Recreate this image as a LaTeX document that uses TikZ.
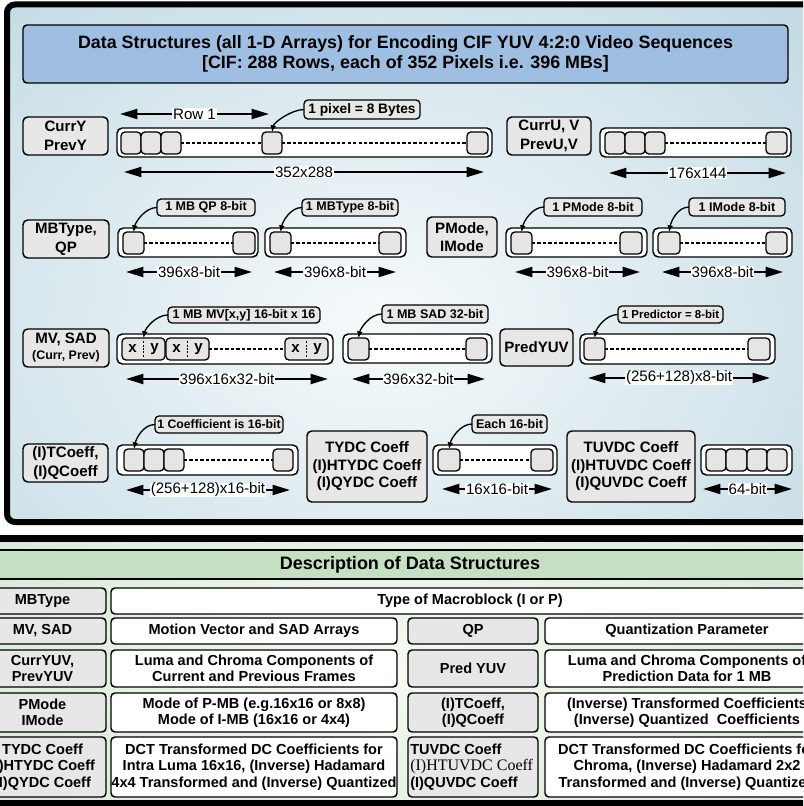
\documentclass[tikz,border=0pt]{standalone}
\usepackage{fontspec}
\setmainfont{Liberation Sans}
\newfontfamily\serifx{Liberation Serif}
\usetikzlibrary{arrows.meta}
\definecolor{tbin}{RGB}{246,250,251}
\definecolor{tbout}{RGB}{186,213,224}
\definecolor{titleblue}{RGB}{158,191,226}
\definecolor{boxgray}{RGB}{231,231,231}
\definecolor{cellgray}{RGB}{229,229,229}
\definecolor{hdrgreen}{RGB}{196,223,194}
\definecolor{bgin}{RGB}{246,250,244}
\definecolor{bgout}{RGB}{198,225,196}
\newcommand\ftitle{\fontsize{13.4pt}{15pt}\selectfont\bfseries}
\newcommand\flbl{\fontsize{11.3pt}{14pt}\selectfont\bfseries}
\newcommand\fbig{\fontsize{11.3pt}{13.1pt}\selectfont\bfseries}
\newcommand\fcall{\fontsize{9.4pt}{11pt}\selectfont\bfseries}
\newcommand\fdim{\fontsize{11.3pt}{13pt}\selectfont}
\newcommand\ftab{\fontsize{10.9pt}{12.3pt}\selectfont\bfseries}
\newcommand\fhdr{\fontsize{13.5pt}{16pt}\selectfont\bfseries}
% box from corners: [style]{name}{x1}{y1}{x2}{y2}{text}
\newcommand\R[6][]{\node[#1, minimum width={(#5-#3)*0.75pt}, minimum height={(#6-#4)*0.75pt}] (#2) at ({(#3+#5)/2},{(#4+#6)/2})}
\tikzset{
 lblbox/.style={draw, fill=boxgray, line width=1.1pt, rounded corners=3.5pt, align=center, inner sep=0pt, outer sep=0pt, font=\flbl},
 arrbox/.style={draw, fill=white, line width=1.1pt, rounded corners=4pt, inner sep=0pt, outer sep=0pt},
 cellbox/.style={draw, fill=cellgray, line width=1pt, rounded corners=3pt, inner sep=0pt, outer sep=0pt},
 callbox/.style={draw, fill=boxgray, line width=1pt, rounded corners=3pt, inner sep=0pt, outer sep=0pt, font=\fcall},
 dimline/.style={line width=1.5pt, {Triangle[length=13pt,width=7.5pt]}-{Triangle[length=13pt,width=7.5pt]}},
 dimlbl/.style={fill=white, inner xsep=0.5pt, inner ysep=0.3pt, font=\fdim},
 dashln/.style={line width=0.8pt, dash pattern=on 2.5pt off 1.6pt},
 divln/.style={line width=0.7pt, dash pattern=on 1.5pt off 1pt},
 callarr/.style={line width=1pt, -{Latex[length=5pt,width=4.5pt]}},
 xytxt/.style={inner sep=0pt, font=\flbl},
 tabgray/.style={draw, fill=boxgray, line width=1.1pt, rounded corners=3pt, align=center, inner sep=0pt, outer sep=0pt, font=\ftab},
 tabwhite/.style={tabgray, fill=white},
}
\newcommand\XY[3]{\R[cellbox]{#1}{#2}{338}{#3}{360}{};
 \node[xytxt] (#1x) at ({#2+10.5},349) {x};
 \node[xytxt] (#1y) at ({#3-10.5},349) {y};
 \draw[divln] ([yshift=-2.5pt]#1.north) -- ([yshift=2.5pt]#1.south);}
\newcommand\Dim[6]{\coordinate (#1a) at (#2,#4); \coordinate (#1b) at (#3,#4);
 \draw[dimline] (#1a) -- (#1b) node[midway, dimlbl] (#1l) {#6};}
\begin{document}
\begin{tikzpicture}[x=0.75pt,y=-0.75pt]
\useasboundingbox (0,0) rectangle (803,806);
\clip (0,0) rectangle (803,806);
\fill[white] (0,0) rectangle (803,806);
% ---------- top panel ----------
\begin{scope}
\clip[rounded corners=6pt] (7,4.5) rectangle (840,522);
\shade[inner color=tbin, outer color=tbout] (-320,-200) rectangle (1080,840);
\end{scope}
\draw[line width=4.5pt, rounded corners=6pt] (7,4.5) rectangle (840,522);
\R[draw, fill=titleblue, line width=1.1pt, rounded corners=3pt, align=center, inner sep=0pt, font=\ftitle]{title}{23}{25}{788}{83}{Data Structures (all 1-D Arrays) for Encoding CIF YUV 4:2:0 Video Sequences\\{[}CIF: 288 Rows, each of 352 Pixels i.e. 396 MBs{]}};
% row 1
\R[lblbox]{curry}{23}{117}{108}{155}{CurrY\\PrevY};
\R[arrbox]{a1}{117}{128}{492}{157}{};
\R[cellbox]{a1c1}{121}{132}{141}{154}{};
\R[cellbox]{a1c2}{141}{132}{161}{154}{};
\R[cellbox]{a1c3}{161}{132}{181}{154}{};
\R[cellbox]{a1c4}{262}{132}{282}{154}{};
\R[cellbox]{a1c5}{467}{132}{488}{154}{};
\draw[dashln] (a1c3.east) -- (a1c4.west);
\draw[dashln] (a1c4.east) -- (a1c5.west);
\R[callbox, font=\fontsize{10.3pt}{12pt}\selectfont\bfseries]{k1}{304}{100}{420}{119}{1 pixel = 8 Bytes};
\draw[callarr] (k1.west) .. controls +(-12,0) and +(2,-10) .. (a1c4.north);
\Dim{r1}{120}{269}{114}{}{Row 1}
\Dim{d1}{124}{484}{172}{}{352x288}
\R[lblbox]{curru}{507}{117}{591}{155}{CurrU, V\\PrevU,V};
\R[arrbox]{a2}{600}{128}{791}{157}{};
\R[cellbox]{a2c1}{605}{132}{625}{154}{};
\R[cellbox]{a2c2}{625}{132}{645}{154}{};
\R[cellbox]{a2c3}{645}{132}{665}{154}{};
\R[cellbox]{a2c4}{766}{132}{787}{154}{};
\draw[dashln] (a2c3.east) -- (a2c4.west);
\Dim{d2}{609}{786}{173}{}{176x144}
% row 2
\R[lblbox]{mbtype}{23}{220}{109}{258}{MBType,\\QP};
\R[arrbox]{b1}{118}{228}{258}{257}{};
\R[cellbox]{b1c1}{123}{232}{144}{254}{};
\R[cellbox]{b1c2}{233}{232}{255}{254}{};
\draw[dashln] (b1c1.east) -- (b1c2.west);
\R[callbox]{k2}{157}{199}{255}{216}{1 MB QP 8-bit};
\draw[callarr] (k2.west) .. controls +(-12,0) and +(2,-10) .. (b1c1.north);
\R[arrbox]{b2}{265}{228}{406}{257}{};
\R[cellbox]{b2c1}{270}{232}{291}{254}{};
\R[cellbox]{b2c2}{379}{232}{401}{254}{};
\draw[dashln] (b2c1.east) -- (b2c2.west);
\R[callbox]{k3}{302}{199}{398}{216}{1 MBType 8-bit};
\draw[callarr] (k3.west) .. controls +(-12,0) and +(2,-10) .. (b2c1.north);
\Dim{d3}{126}{252}{272}{}{396x8-bit}
\Dim{d4}{274}{396}{272}{}{396x8-bit}
\R[lblbox]{pmode}{427}{217}{497}{257}{PMode,\\IMode};
\R[arrbox]{b3}{506}{228}{647}{257}{};
\R[cellbox]{b3c1}{511}{232}{532}{254}{};
\R[cellbox]{b3c2}{620}{232}{642}{254}{};
\draw[dashln] (b3c1.east) -- (b3c2.west);
\R[callbox]{k4}{544}{198}{642}{216}{1 PMode 8-bit};
\draw[callarr] (k4.west) .. controls +(-12,0) and +(2,-10) .. (b3c1.north);
\R[arrbox]{b4}{653}{228}{792}{257}{};
\R[cellbox]{b4c1}{658}{232}{680}{254}{};
\R[cellbox]{b4c2}{766}{232}{787}{254}{};
\draw[dashln] (b4c1.east) -- (b4c2.west);
\R[callbox]{k5}{689}{198}{785}{216}{1 IMode 8-bit};
\draw[callarr] (k5.west) .. controls +(-12,0) and +(2,-10) .. (b4c1.north);
\Dim{d5}{515}{640}{272}{}{396x8-bit}
\Dim{d6}{662}{783}{272}{}{396x8-bit}
% row 3
\R[lblbox]{mvsad}{23}{329}{109}{367}{MV, SAD\\[-2pt]{\fontsize{9.3pt}{11pt}\selectfont(Curr, Prev)}};
\R[arrbox]{c1}{117}{334}{333}{364}{};
\XY{xy1}{122}{165}
\XY{xy2}{166}{209}
\XY{xy3}{285}{328}
\draw[dashln] (xy2.east) -- (xy3.west);
\R[callbox]{k6}{168}{307}{320}{323}{1 MB MV[x,y] 16-bit x 16};
\draw[callarr] (k6.west) .. controls +(-12,0) and +(2,-10) .. (xy1.north);
\R[arrbox]{c2}{343}{334}{492}{363}{};
\R[cellbox]{c2c1}{348}{338}{369}{360}{};
\R[cellbox]{c2c2}{466}{338}{487}{360}{};
\draw[dashln] (c2c1.east) -- (c2c2.west);
\R[callbox]{k7}{382}{305}{488}{323}{1 MB SAD 32-bit};
\draw[callarr] (k7.west) .. controls +(-12,0) and +(2,-10) .. (c2c1.north);
\Dim{d7}{126}{328}{379}{}{396x16x32-bit}
\Dim{d8}{352}{485}{379}{}{396x32-bit}
\R[lblbox]{predyuv}{500}{329}{573}{366}{PredYUV};
\R[arrbox]{c3}{580}{334}{775}{364}{};
\R[cellbox]{c3c1}{584}{338}{605}{360}{};
\R[cellbox]{c3c2}{748}{338}{770}{360}{};
\draw[dashln] (c3c1.east) -- (c3c2.west);
\R[callbox, font=\fontsize{8.6pt}{10pt}\selectfont\bfseries]{k8}{618}{306}{723}{323}{1 Predictor = 8-bit};
\draw[callarr] (k8.west) .. controls +(-12,0) and +(2,-10) .. (c3c1.north);
\Dim{d9}{588}{770}{378}{}{(256+128)x8-bit}
% row 4
\R[lblbox]{tcoeff}{23}{444}{108}{482}{(I)TCoeff,\\(I)QCoeff};
\R[arrbox]{e1}{117}{445}{298}{475}{};
\R[cellbox]{e1c1}{124}{449}{144}{471}{};
\R[cellbox]{e1c2}{144}{449}{164}{471}{};
\R[cellbox]{e1c3}{164}{449}{184}{471}{};
\R[cellbox]{e1c4}{273}{449}{293}{471}{};
\draw[dashln] (e1c3.east) -- (e1c4.west);
\R[callbox, font=\fontsize{9.2pt}{11pt}\selectfont\bfseries]{k9}{155}{416}{283}{433}{1 Coefficient is 16-bit};
\draw[callarr] (k9.west) .. controls +(-12,0) and +(2,-10) .. (e1c1.north);
\Dim{d10}{126}{290}{490}{}{(256+128)x16-bit}
\R[lblbox, font=\fbig]{tydc}{307}{431}{427}{502}{TYDC Coeff\\(I)HTYDC Coeff\\(I)QYDC Coeff};
\R[arrbox]{e2}{433}{445}{557}{475}{};
\R[cellbox]{e2c1}{438}{449}{460}{471}{};
\R[cellbox]{e2c2}{531}{449}{553}{471}{};
\draw[dashln] (e2c1.east) -- (e2c2.west);
\R[callbox]{k10}{472}{415}{547}{433}{Each 16-bit};
\draw[callarr] (k10.west) .. controls +(-12,0) and +(2,-10) .. (e2c1.north);
\Dim{d11}{442}{552}{489}{}{16x16-bit}
\R[lblbox, font=\fbig]{tuvdc}{567}{431}{695}{502}{TUVDC Coeff\\(I)HTUVDC Coeff\\(I)QUVDC Coeff};
\R[arrbox]{e3}{701}{445}{792}{475}{};
\R[cellbox]{e3c1}{706}{449}{726}{471}{};
\R[cellbox]{e3c2}{726}{449}{747}{471}{};
\R[cellbox]{e3c3}{747}{449}{767}{471}{};
\R[cellbox]{e3c4}{767}{449}{787}{471}{};
\Dim{d12}{703}{792}{489}{}{64-bit}
% ---------- bottom panel ----------
\begin{scope}
\clip (-20,538.5) rectangle (840,803);
\shade[inner color=bgin, outer color=bgout] (-400,300) rectangle (1200,1040);
\end{scope}
\draw[line width=5.25pt] (-20,538.5) rectangle (840,803);
\R[draw, fill=hdrgreen, line width=1.2pt, inner sep=0pt, font=\fhdr]{hdr}{-20}{550}{840}{579}{Description of Data Structures};
\R[tabgray]{t11}{-21}{588}{106}{614}{MBType};
\R[tabwhite]{t12}{111}{588}{829}{614}{Type of Macroblock (I or P)};
\R[tabgray]{t21}{-21}{618}{106}{644}{MV, SAD};
\R[tabwhite]{t22}{111}{618}{397}{644}{Motion Vector and SAD Arrays};
\R[tabgray]{t23}{408}{618}{538}{644}{QP};
\R[tabwhite]{t24}{545}{618}{829}{644}{Quantization Parameter};
\R[tabgray]{t31}{-21}{650}{106}{687}{CurrYUV,\\PrevYUV};
\R[tabwhite]{t32}{111}{650}{397}{687}{Luma and Chroma Components of\\Current and Previous Frames};
\R[tabgray]{t33}{408}{650}{538}{687}{Pred YUV};
\R[tabwhite]{t34}{545}{650}{829}{687}{Luma and Chroma Components of\\Prediction Data for 1 MB};
\R[tabgray]{t41}{-21}{693}{106}{732}{PMode\\IMode};
\R[tabwhite]{t42}{111}{693}{397}{732}{Mode of P-MB (e.g.16x16 or 8x8)\\Mode of I-MB (16x16 or 4x4)};
\R[tabgray]{t43}{408}{693}{538}{732}{(I)TCoeff,\\(I)QCoeff};
\R[tabwhite]{t44}{545}{693}{829}{732}{(Inverse) Transformed Coefficients\\(Inverse) Quantized\ \ Coefficients};
\R[tabgray]{t51}{-21}{737}{106}{797}{TYDC Coeff\\(I)HTYDC Coeff\\(I)QYDC Coeff};
\R[tabwhite]{t52}{111}{737}{397}{797}{DCT Transformed DC Coefficients for\\Intra Luma 16x16, (Inverse) Hadamard\\4x4 Transformed and (Inverse) Quantized};
\R[tabgray]{t53}{408}{737}{538}{797}{};
\node[anchor=west, align=left, inner sep=0pt, font=\ftab] (t53t) at (410,767) {TUVDC Coeff\\{\serifx\mdseries\fontsize{12pt}{12.3pt}\selectfont (I)HTUVDC Coeff}\\(I)QUVDC Coeff};
\R[tabwhite]{t54}{545}{737}{829}{797}{DCT Transformed DC Coefficients for\\Chroma, (Inverse) Hadamard 2x2\\Transformed and (Inverse) Quantized};
\end{tikzpicture}
\end{document}
